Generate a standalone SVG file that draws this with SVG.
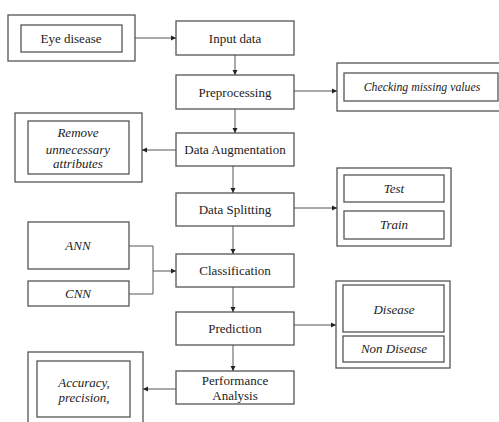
<svg xmlns="http://www.w3.org/2000/svg" width="499" height="422" viewBox="0 0 499 422">
<style>
rect{fill:none;stroke:#555;stroke-width:1.3}
text{font-family:'Liberation Serif','Times New Roman','DejaVu Serif',serif;fill:#222;text-anchor:middle}
.m{font-size:13px}
.i{font-size:13px;font-style:italic}
.s{font-size:11.8px;font-style:italic}
.c line,.c polyline{stroke:#555;stroke-width:1;fill:none}
</style>
<defs>
<marker id="a" markerWidth="6" markerHeight="6" refX="5" refY="3" orient="auto" markerUnits="userSpaceOnUse">
<path d="M0,0.5 L5,3 L0,5.5 Z" fill="#222"/>
</marker>
</defs>
<rect x="0" y="0" width="499" height="422" style="fill:#fff;stroke:none"/>
<g font-family="Liberation Serif, DejaVu Serif, serif">
<g id="eye"><rect x="8" y="15" width="127" height="46"/><rect x="21" y="25" width="101" height="27"/><text class="m" x="71" y="43">Eye disease</text></g>
<g id="input"><rect x="176" y="21" width="118" height="34"/><text class="m" x="235" y="43">Input data</text></g>
<g id="prep"><rect x="176" y="75" width="118" height="34"/><text class="m" x="235" y="97">Preprocessing</text></g>
<g id="check"><rect x="337" y="63" width="170" height="48"/><rect x="344" y="73" width="154" height="28"/><text class="s" x="422" y="91">Checking missing values</text></g>
<g id="aug"><rect x="176" y="133" width="118" height="33"/><text class="m" x="235" y="154">Data Augmentation</text></g>
<g id="remove"><rect x="15" y="113" width="127" height="69"/><rect x="28" y="121" width="101" height="53"/><text class="i" x="78" y="137">Remove</text><text class="i" x="78" y="154">unnecessary</text><text class="i" x="78" y="168">attributes</text></g>
<g id="split"><rect x="176" y="193" width="118" height="33"/><text class="m" x="235" y="214">Data Splitting</text></g>
<g id="testtrain"><rect x="337" y="168" width="114" height="78"/><rect x="344" y="175" width="100" height="27"/><text class="i" x="394" y="193">Test</text><rect x="344" y="211" width="100" height="28"/><text class="i" x="394" y="229">Train</text></g>
<g id="ann"><rect x="28" y="222" width="101" height="47"/><text class="i" x="78" y="250">ANN</text></g>
<g id="cnn"><rect x="28" y="281" width="101" height="25"/><text class="i" x="78" y="298">CNN</text></g>
<g id="class"><rect x="176" y="254" width="118" height="33"/><text class="m" x="235" y="275">Classification</text></g>
<g id="pred"><rect x="176" y="312" width="118" height="33"/><text class="m" x="235" y="333">Prediction</text></g>
<g id="disease"><rect x="336" y="281" width="114" height="87"/><rect x="343" y="285" width="101" height="47"/><text class="i" x="394" y="314">Disease</text><rect x="343" y="336" width="101" height="26"/><text class="i" x="394" y="353">Non Disease</text></g>
<g id="perf"><rect x="176" y="371" width="118" height="33"/><text class="m" x="235" y="385">Performance</text><text class="m" x="235" y="400">Analysis</text></g>
<g id="acc"><rect x="28" y="352" width="115" height="80"/><rect x="37" y="361" width="93" height="56"/><text class="i" x="84" y="387">Accuracy,</text><text class="i" x="84" y="402">precision,</text></g>
</g>
<g class="c" id="connectors">
<line x1="135" y1="38" x2="176" y2="38" marker-end="url(#a)"/>
<line x1="235" y1="55" x2="235" y2="75" marker-end="url(#a)"/>
<line x1="294" y1="91" x2="337" y2="91" marker-end="url(#a)"/>
<line x1="235" y1="109" x2="235" y2="133" marker-end="url(#a)"/>
<line x1="176" y1="150" x2="142" y2="150" marker-end="url(#a)"/>
<line x1="233" y1="166" x2="233" y2="193" marker-end="url(#a)"/>
<line x1="294" y1="208" x2="337" y2="208" marker-end="url(#a)"/>
<line x1="233" y1="226" x2="233" y2="254" marker-end="url(#a)"/>
<polyline points="129,246 153,246 153,294 129,294"/>
<line x1="153" y1="271" x2="176" y2="271" marker-end="url(#a)"/>
<line x1="233" y1="287" x2="233" y2="312" marker-end="url(#a)"/>
<line x1="294" y1="325" x2="336" y2="325" marker-end="url(#a)"/>
<line x1="233" y1="345" x2="233" y2="371" marker-end="url(#a)"/>
<line x1="176" y1="389" x2="143" y2="389" marker-end="url(#a)"/>
</g>
</svg>
